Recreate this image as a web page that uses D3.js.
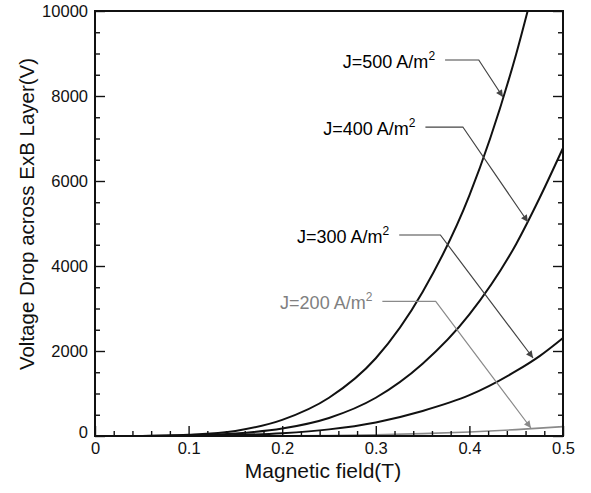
<!DOCTYPE html>
<html>
<head>
<meta charset="utf-8">
<script src="https://cdn.jsdelivr.net/npm/d3@7"></script>
<style>
  html, body { margin: 0; padding: 0; background: #fff; }
  svg { display: block; font-family: "Liberation Sans", Arial, Helvetica, sans-serif; }
</style>
</head>
<body>
<svg id="chart" width="591" height="493"></svg>
<script>
// ---- data ----
const fieldB = [0, 0.05, 0.1, 0.15, 0.2, 0.25, 0.3, 0.35, 0.4, 0.45, 0.475, 0.5];
const vJ500 = [0, 2, 30, 120, 380, 900, 1830, 3390, 5660, 8990, 11100, 13300];
const vJ400 = [0, 1, 15, 59, 176, 425, 900, 1700, 2860, 4520, 5600, 6776];
const vJ300 = [0, 0, 6, 23, 67, 156, 320, 590, 960, 1530, 1880, 2306];
const vJ200 = [0, 0, 0, 1, 5, 12, 28, 55, 95, 150, 185, 220];
const seriesNames = ["J=500 A/m", "J=400 A/m", "J=300 A/m", "J=200 A/m"];
const xTicks = [0, 0.1, 0.2, 0.3, 0.4, 0.5];
const yTicks = [0, 2000, 4000, 6000, 8000, 10000];
const xTitle = "Magnetic field(T)";
const yTitle = "Voltage Drop across ExB Layer(V)";
// annotation anchors in data units: tip on curve, elbow, start of leader
const annTipB = [0.4358, 0.4625, 0.468, 0.4657];
const annTipV = [7976, 5035, 1835, 188];
const annElbowB = [0.410, 0.393, 0.369, 0.364];
const annElbowV = [8847, 7270, 4730, 3170];
const annStartB = [0.374, 0.353, 0.325, 0.307];

// ---- layout ----
const svg = d3.select("#chart");
const L = 95, R = 563, T = 11, B = 436;
const x = d3.scaleLinear().domain([0, 0.5]).range([L, R]);
const y = d3.scaleLinear().domain([0, 10000]).range([B, T]);

const seriesVals = [vJ500, vJ400, vJ300, vJ200];
const curveColor = ["#111", "#111", "#111", "#8a8a8a"];
const curveWidth = [2, 2, 2, 1.6];
const leaderColor = ["#444", "#444", "#444", "#8a8a8a"];
const textColor = ["#000", "#000", "#000", "#808080"];

const defs = svg.append("defs");
defs.append("clipPath").attr("id", "plotclip")
  .append("rect").attr("x", L).attr("y", T).attr("width", R - L).attr("height", B - T);
["#444", "#8a8a8a"].forEach((c, i) => {
  defs.append("marker").attr("id", "arr" + i)
    .attr("viewBox", "0 0 10 10").attr("refX", 10).attr("refY", 5)
    .attr("markerWidth", 9).attr("markerHeight", 7).attr("markerUnits", "userSpaceOnUse")
    .attr("orient", "auto")
    .append("path").attr("d", "M0,0 L10,5 L0,10 Z").attr("fill", c);
});

// curves
const line = d3.line().x(d => x(d[0])).y(d => y(d[1])).curve(d3.curveMonotoneX);
const plot = svg.append("g").attr("clip-path", "url(#plotclip)");
seriesVals.forEach((vals, i) => {
  plot.append("path")
    .datum(fieldB.map((b, k) => [b, vals[k]]))
    .attr("d", line)
    .attr("fill", "none")
    .attr("stroke", curveColor[i])
    .attr("stroke-width", curveWidth[i]);
});

// axes (ticks pointing inward)
const xMinor = d3.range(0, 0.5001, 0.02).filter(v => Math.abs(v * 10 - Math.round(v * 10)) > 1e-6);
const yMinor = d3.range(0, 10001, 500).filter(v => v % 2000 !== 0);

svg.append("g").attr("transform", `translate(0,${B})`)
  .call(d3.axisBottom(x).tickValues(xTicks).tickSizeInner(-10).tickSizeOuter(0).tickPadding(6)
    .tickFormat(d => d === 0 ? "0" : d3.format(".1f")(d)));
svg.append("g").attr("transform", `translate(0,${B})`)
  .call(d3.axisBottom(x).tickValues(xMinor).tickSizeInner(-5).tickSizeOuter(0).tickFormat(""));

const yAxis = svg.append("g").attr("transform", `translate(${L},0)`)
  .call(d3.axisLeft(y).tickValues(yTicks).tickSizeInner(-10).tickSizeOuter(0).tickPadding(7)
    .tickFormat(d3.format("d")));
svg.append("g").attr("transform", `translate(${L},0)`)
  .call(d3.axisLeft(y).tickValues(yMinor).tickSizeInner(-5).tickSizeOuter(0).tickFormat(""));
svg.append("g").attr("transform", `translate(${R},0)`)
  .call(d3.axisRight(y).tickValues(yTicks).tickSizeInner(-10).tickSizeOuter(0).tickFormat(""));
svg.append("g").attr("transform", `translate(${R},0)`)
  .call(d3.axisRight(y).tickValues(yMinor).tickSizeInner(-5).tickSizeOuter(0).tickFormat(""));

svg.selectAll(".domain").remove();
svg.selectAll(".tick line").attr("stroke", "#111").attr("stroke-width", 1.4);
svg.selectAll(".tick text").attr("font-family", "Liberation Sans, Arial, sans-serif")
  .attr("font-size", 16.5).attr("fill", "#111");
// bottom-left "0" of y axis sits slightly higher than its tick, like the reference
yAxis.selectAll(".tick text").filter(d => d === 0).attr("dy", "0.1em");

// frame
svg.append("rect").attr("x", L).attr("y", T).attr("width", R - L).attr("height", B - T)
  .attr("fill", "none").attr("stroke", "#111").attr("stroke-width", 2);

// titles
svg.append("text").attr("x", (L + R) / 2 - 6).attr("y", 478)
  .attr("text-anchor", "middle").attr("font-size", 21).attr("fill", "#111").text(xTitle);
svg.append("text").attr("transform", `translate(34,214) rotate(-90)`)
  .attr("text-anchor", "middle").attr("font-size", 20.5).attr("fill", "#111").text(yTitle);

// annotations
seriesNames.forEach((name, i) => {
  const sx = x(annStartB[i]), ex = x(annElbowB[i]), ey = y(annElbowV[i]);
  const tx = x(annTipB[i]), ty = y(annTipV[i]);
  svg.append("path")
    .attr("d", `M${sx},${ey} L${ex},${ey} L${tx},${ty}`)
    .attr("fill", "none").attr("stroke", leaderColor[i]).attr("stroke-width", 1.2)
    .attr("marker-end", `url(#arr${i === 3 ? 1 : 0})`);
  const t = svg.append("text").attr("x", sx - 10).attr("y", ey + 8)
    .attr("text-anchor", "end").attr("font-size", 18).attr("fill", textColor[i]);
  t.append("tspan").text(name);
  t.append("tspan").attr("dy", -8).attr("font-size", 12).text("2");
});
</script>
</body>
</html>
